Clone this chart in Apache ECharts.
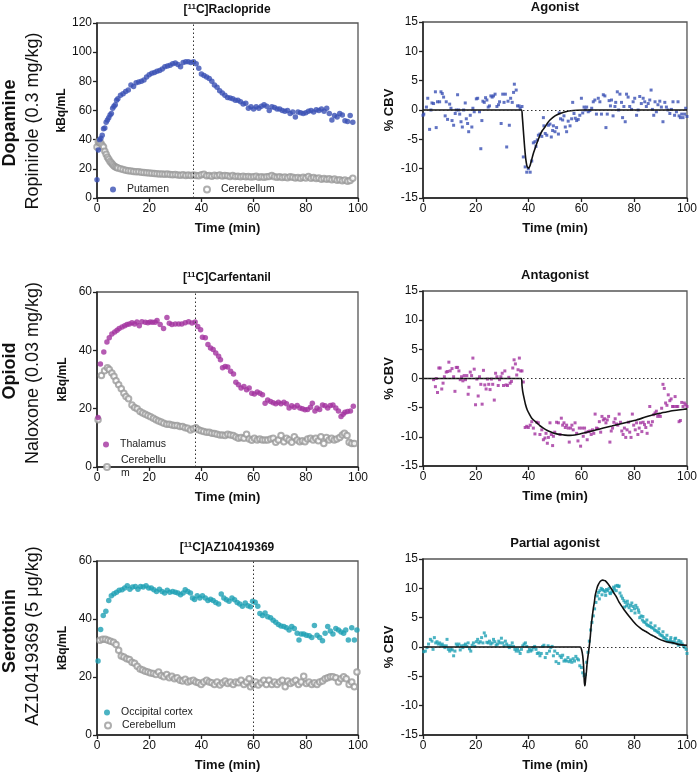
<!DOCTYPE html>
<html><head><meta charset="utf-8">
<script src="https://cdn.jsdelivr.net/npm/echarts@6/dist/echarts.min.js"></script>
<style>html,body{margin:0;padding:0;background:#fff}#c{width:700px;height:777px}</style>
</head><body><div id="c"></div>
<script>
// ---------- DATA ----------
const timeTicks = [0, 20, 40, 60, 80, 100];
const injection = [37, 37.5, 60];
const putamen = [[0,12.5],[0.5,33],[1,40],[1.5,41],[2,43],[2.5,47.5],[3,48],[3.5,52],[4,53.5],[4.5,55],[5,57],[5.5,58],[6,61.5],[6.5,63],[7,64],[7.5,67],[8,68],[9,70.5],[10,71.5],[11,73],[12,74],[13,77.5],[14,76.5],[15,79],[16,79.5],[17,80],[18,81],[19,83],[20,84.5],[21,85.5],[22,86],[23,87],[24,87.5],[25,88.5],[26,90],[27,90.5],[28,91],[29,92],[30,92.5],[31,91.5],[32,90],[33,93],[34,93.5],[35,93.5],[36,93],[37,93.5],[38,92],[39,89],[40,85],[41,84],[42,83],[43,82],[44,80],[45,77.5],[46,76],[47,73.5],[48,72],[49,70.5],[50,69],[51,68.5],[52,68],[53,67],[54,67],[55,66],[56,64.5],[57,65],[58,61.5],[59,62.5],[60,61],[61,62.5],[62,61.5],[63,63],[64,64],[65,63],[66,60],[67,62.5],[68,62],[69,61],[70,61],[71,60],[72,59.5],[73,60],[74,58],[75,59],[76,55.5],[77,59],[78,58.5],[79,58],[80,58.5],[81,59.5],[82,60],[83,59],[84,60.5],[85,60],[86,61],[87,59.5],[88,61.5],[89,58],[90,53.5],[91,56.5],[92,55.5],[93,58],[94,57],[95,53],[96,52.5],[97,56.5],[98,52]];
const cerebellumRac = [[0,35],[0.5,38.5],[1,38],[1.5,37.5],[2,36],[2.5,35],[3,32],[3.5,30],[4,28],[4.5,26.5],[5,25],[5.5,24],[6,23],[6.5,22],[7,21.5],[7.5,21],[8,20.5],[9,20],[10,19.5],[11,19],[12,18.7],[13,18.5],[14,18.2],[15,18],[16,18],[17,17.6],[18,17.5],[19,17.4],[20,17.2],[21,17],[22,16.8],[23,16.7],[24,16.5],[25,16.5],[26,16.3],[27,16.4],[28,16.2],[29,16],[30,16.1],[31,15.8],[32,15.6],[33,15.9],[34,15.5],[35,15.7],[36,15.4],[37,15.8],[38,15.5],[39,15.3],[40,15.9],[41,16.3],[42,15.2],[43,15.5],[44,15],[45,15.6],[46,15.3],[47,15.8],[48,15.1],[49,15.4],[50,15.2],[51,14.8],[52,15.4],[53,14.7],[54,15],[55,14.6],[56,14.9],[57,14.5],[58,14.8],[59,14.4],[60,14.6],[61,14.9],[62,14.3],[63,14.6],[64,14.2],[65,14.5],[66,14.8],[67,15.5],[68,14.6],[69,14.2],[70,14.5],[71,14.1],[72,14.4],[73,13.9],[74,14.6],[75,14.2],[76,13.8],[77,14],[78,13.6],[79,14.2],[80,13.8],[81,14.8],[82,13.5],[83,14],[84,13.4],[85,13.7],[86,12.9],[87,13.3],[88,12.8],[89,13.2],[90,12.6],[91,13],[92,12.2],[93,12.6],[94,11.8],[95,12.3],[96,11.5],[97,12],[98,13.5]];
const thalamus = [[0.4,17],[1.3,35.3],[2.6,39.4],[3.8,42.9],[4.7,44.3],[5.7,45.6],[6.8,46.3],[7.7,46.9],[8.5,47.5],[9.6,48],[10.6,48.4],[11.5,48.9],[12.4,49],[13.4,49.5],[14.4,49],[15.3,49.7],[16.2,48.4],[17.2,49.8],[18.5,49.6],[19.5,49.5],[20.4,49.7],[21.3,49.6],[22.3,49.6],[23,50.2],[24.2,48.9],[25.5,47.5],[26.8,51.3],[27.7,49.3],[28.7,48.9],[30,49],[31.3,49],[32.5,49],[33.8,49.5],[35.1,49.8],[36.4,49.4],[37.6,49.7],[38.6,48.2],[39.7,47.1],[40.4,44.5],[41.5,44.3],[42.5,42],[43.5,40.8],[44.5,40.3],[45.5,39.1],[46.6,38],[47.3,36.8],[48.1,34],[49.1,34.5],[50.1,34.3],[51.2,32.8],[52.3,31.9],[53.2,29.1],[54.2,28.2],[55.2,27.1],[56.3,27.6],[57.3,26.5],[58.3,27.1],[59.3,25.3],[60.3,25],[61.4,25.7],[62.4,25.3],[63.4,24.8],[64.4,21.9],[65.4,23],[66.5,22.5],[67.5,22],[68.5,21.7],[69.5,22.2],[70.5,21.7],[71.6,22.2],[72.6,21.7],[73.6,20.2],[74.6,21],[75.6,20.5],[76.7,21.1],[77.7,20.2],[78.7,20],[79.7,19.6],[80.7,19.7],[81.8,20.5],[82.5,21.9],[83.5,19.2],[84.3,20.2],[85.3,19.7],[86.4,21.3],[87.4,21],[88.4,20.2],[89.4,21.1],[90.4,21.3],[91.5,20.2],[92.5,19.2],[93.5,17.3],[94.3,18.1],[95,18.8],[96,19],[97.1,19.2],[98.2,20.8]];
const cerebellumCarf = [[0.4,16.2],[1.7,31.4],[2.9,33],[4,34],[4.7,33.4],[5.7,32.2],[6.5,31.1],[7.3,29.6],[8.3,28.2],[9.3,26.8],[10.3,25.3],[11.1,24.2],[12.1,23.4],[13.4,21.3],[14.4,20.4],[15.4,20],[16.5,19],[17.5,18.5],[18.5,18.1],[19.5,17.7],[20.5,17.2],[21.6,16.7],[22.6,16.2],[23.6,15.8],[24.6,15.4],[25.6,15],[26.7,14.7],[27.7,14.7],[28.7,14.4],[29.7,14.2],[30.7,14.2],[31.8,13.9],[32.8,13.9],[33.8,13.5],[34.8,13.3],[35.8,12.7],[36.9,13.1],[37.9,13.5],[38.9,12.8],[39.9,12.4],[40.9,12.2],[42,11.9],[43,11.9],[44,11.6],[45,11.5],[46,11.2],[47.1,11],[48.1,11],[49.1,10.8],[50.1,11.2],[51.1,11],[52.2,10.8],[53.2,10.3],[54.2,9.9],[55.2,10.1],[56.3,9.9],[57.3,11.2],[58.3,9.6],[59.3,9.2],[60.3,9.9],[61.4,9.3],[62.4,9.6],[63.4,9.3],[64.4,9.3],[65.4,9.3],[66.5,9.6],[67.5,9.9],[68.5,8.5],[69.5,9.3],[70.5,10.8],[71.6,8.7],[72.6,9.9],[73.6,9.3],[74.6,8.5],[75.6,10.4],[76.7,9.3],[77.7,8.7],[78.7,9],[79.7,8.7],[80.7,9.6],[81.8,9.9],[82.8,9.3],[83.8,9.9],[84.8,9],[85.8,10.4],[86.9,8.1],[87.9,10.1],[88.9,9.3],[89.9,9.9],[90.9,9.3],[91.9,9.6],[93,10.1],[94,11],[94.8,11.6],[95.8,10.8],[96.6,8.5],[97.6,8.1],[98.6,8.1]];
const occipital = [[0.4,25.5],[1.4,36.4],[2.4,41.2],[3.4,42.7],[4.5,46.4],[5.5,48],[6.5,48.7],[7.5,49.2],[8.5,49.9],[9.6,50.1],[10.6,50.7],[11.6,51.5],[12.6,50.3],[13.6,51],[14.7,51.2],[15.7,50.3],[16.7,51.2],[17.7,51],[18.8,51.5],[19.8,50.7],[20.8,50.7],[21.8,50.1],[22.8,49.5],[23.9,50.3],[24.9,49.5],[25.9,49],[26.9,49.9],[27.9,49.2],[29,49.5],[30,49.2],[31,49],[32,48.4],[33,49],[33.8,50.1],[34.8,49.5],[35.8,49],[36.6,47.2],[37.4,46.7],[38.4,48],[39.4,47.2],[40.4,48],[41.5,47.2],[42.5,46.4],[43.5,46.8],[44.5,46.4],[45.5,45.7],[46.6,45.2],[47.6,48.6],[48.6,47.2],[49.6,46.6],[50.6,46.1],[51.7,47.2],[52.7,46.6],[53.7,45.7],[54.7,45.2],[55.7,44.4],[56.8,45.5],[57.8,44.6],[58.8,44.2],[59.6,46.1],[60.6,45.8],[61.6,44.4],[62.4,41.9],[63.4,41.2],[64.4,42.1],[65.4,40.8],[66.5,40.4],[67.5,39.6],[68.5,38.9],[69.5,38.1],[70.5,37.6],[71.6,37.4],[72.6,37],[73.6,36.2],[74.6,37.4],[75.6,36.7],[76.7,35.1],[77.4,32.8],[78.2,34.8],[79.2,34.8],[80.2,34.4],[81.3,34.2],[82.3,33.6],[83.3,37.8],[84.3,34.4],[85.3,33.6],[86.4,32.5],[87.4,35.1],[88.4,37.4],[89.4,35.9],[90.4,34.8],[91.5,36.7],[92.5,36.2],[93.5,35.5],[94.5,35.1],[95.3,36.2],[96.3,32.8],[97.6,37],[98.6,32.8],[99.6,36.2]];
const cerebellumAZ = [[1.1,32.7],[2.2,33],[3.2,33],[4.2,32.7],[5.2,32.3],[6.3,32],[7.3,31.2],[8.3,29.2],[9.3,27.2],[10.3,26.9],[11.4,26.3],[12.4,26],[13.4,25.1],[14.4,24.7],[15.4,23.7],[16.5,22.8],[17.5,22.4],[18.5,22],[19.5,21.7],[20.5,21.4],[21.6,21.2],[22.6,20.9],[23.6,21.7],[24.6,20.5],[25.6,20.1],[26.7,20.9],[27.7,19.7],[28.7,20.3],[29.7,19.4],[30.7,19.7],[31.8,18.9],[32.8,18.6],[33.8,19.2],[34.8,18.3],[35.8,18.6],[36.9,18.9],[37.9,18.3],[38.9,18],[39.9,17.4],[40.9,18.3],[42,18.9],[43,18.3],[44,18],[45,17.4],[46,18.3],[47.1,17.2],[48.1,18],[49.1,18.6],[50.1,17.8],[51.1,18.3],[52.2,17.4],[53.2,18.3],[54.2,18],[55.2,18.9],[56.3,17.4],[57.3,18.3],[58.3,19.4],[58.8,16.6],[59.8,17.4],[60.8,18.3],[61.8,17.2],[62.9,18],[63.9,18.9],[64.9,17.4],[65.9,18.9],[67,17.4],[68,18.3],[69,17.4],[70,18.3],[71,18.9],[72.1,16.6],[73.1,18.6],[74.1,17.8],[75.1,18.3],[76.1,18.9],[77.2,17.4],[78.2,18.3],[79.2,20.3],[80.2,17.8],[81.2,18.3],[82.3,17.4],[83.3,18],[84.3,17.4],[85.3,18.3],[86.4,18.6],[87.4,19.4],[88.4,19.7],[89.4,20.1],[90.4,20.1],[91.5,19.7],[92.5,18.3],[93.5,19.4],[94.5,20.1],[95.5,19.4],[96.6,17.4],[97.6,18.3],[98.6,16.6],[99.6,21.7]];
const agonistCBV = [[0,-0.9],[0.3,-0.7],[1.3,0.5],[1.8,2],[2.5,-3.3],[3,0],[3.4,1.2],[4,1.1],[4.7,3.1],[5,-3],[5.5,1.4],[6.3,1.4],[6.8,3.1],[7.3,2.8],[7.8,2.2],[8.4,-1],[8.8,1.4],[9.3,-1.6],[10.1,1],[10.6,0.3],[11,-1.8],[11.6,-2.6],[12.2,-0.6],[12.6,0],[13.1,2.6],[13.5,0],[13.9,-0.7],[14.4,-2],[14.9,-2.9],[15.4,0],[16,1.2],[16.4,-1.5],[16.9,-2.3],[17.3,-3.7],[17.9,-0.9],[18.5,-2.9],[18.9,0.3],[19.4,-0.3],[20.2,1.9],[20.7,2],[21.4,-0.3],[21.9,-6.6],[22.3,-1.8],[22.7,1.5],[23.2,1.3],[23.7,2.1],[24.2,1.7],[24.7,0.5],[25.2,0.7],[25.7,2.4],[26.2,2.2],[26.7,2.4],[27.3,2.7],[28,0.6],[28.6,0.9],[29,1.4],[29.6,-2.3],[30.2,2.7],[30.7,1.3],[31.2,2.7],[31.7,-6.3],[32.2,1.5],[32.7,-2.6],[33.2,2],[33.8,1.3],[34.3,3],[34.6,4.4],[35.3,3.4],[35.8,0.7],[36.4,0.7],[36.8,0.3],[37.5,0.6],[38,-8],[38.7,-9.7],[39.3,-10.6],[39.9,-10],[40.6,-10.6],[41.2,-8.7],[41.8,-5.6],[42.4,-5.4],[42.8,-6.2],[43.3,-5.1],[43.7,-4.3],[44.3,-4.1],[45,-4.5],[45.6,-1.3],[45.8,-2.7],[46.3,-4],[46.9,-4.3],[47.5,-2.6],[48.1,-2.4],[48.6,-4.6],[49.1,-3.5],[49.4,-2.7],[50,-3.7],[50.6,-3],[51.3,-4.1],[51.6,-0.5],[52.1,-1.5],[52.9,-1.7],[53.4,-1],[53.9,-2.9],[54.4,-3.7],[55,-1.9],[55.7,-2.7],[56.3,-1.5],[56.7,1.3],[57.2,-0.6],[57.7,-1.4],[58.2,-1.8],[58.8,-1.6],[59.4,-0.9],[60,2],[60.5,-0.5],[61,0.5],[61.5,0],[62,0.5],[62.6,-0.3],[63.2,-0.1],[63.9,0.3],[64.5,1.4],[65.1,1.7],[65.7,-0.7],[66.4,2],[67,1.4],[67.6,-0.7],[68.3,2.6],[68.9,2.4],[69.3,-3],[69.8,-0.7],[70.5,1.6],[71,0.7],[71.4,1.7],[72,-1],[72.7,0.6],[73,1.3],[73.6,3.1],[74.1,0],[74.6,2.7],[75.2,1.3],[75.6,-1.3],[76.1,0.6],[76.6,-2],[77.1,2.7],[77.7,2.2],[78.3,0.6],[79,0.1],[79.6,1.4],[80.2,2],[80.9,-0.9],[81.5,0],[82.1,2.3],[82.7,1.1],[83.4,2],[84,1.4],[84.6,0.6],[85.3,1.1],[85.9,1.7],[86.4,3.4],[86.9,0.1],[87.4,-0.9],[87.9,1.4],[88.4,-0.3],[89,0.9],[89.7,1.5],[90.3,0.5],[90.9,-2],[91.6,1.3],[92.2,0.5],[92.8,0],[93.5,-0.6],[94.1,0.1],[94.7,1.4],[95.3,-0.9],[96,-0.3],[96.6,1.4],[97,-1],[97.5,-1.3],[98,-0.7],[98.5,-1.3],[99.1,-0.7],[99.5,0.3],[100,-1.1]];
const agonistFit = [[0,0],[37.3,0],[37.6,-1],[38,-3.4],[38.4,-5.8],[38.7,-7.4],[39,-8.6],[39.3,-9.4],[39.6,-9.8],[39.9,-9.9],[40.2,-9.8],[40.6,-9.4],[41.2,-8.4],[41.8,-7.4],[42.5,-6.5],[43.1,-5.7],[44.3,-4.3],[45.2,-3.5],[46.2,-2.9],[47.2,-2.2],[48.1,-1.7],[50,-1],[51.9,-0.6],[54.4,-0.25],[58.2,-0.05],[61,0],[100,0]];
const antagonistCBV = [[4,-0.2],[4.7,-1.4],[5,0],[5.5,-2.4],[6,1.8],[6.5,1.8],[7.1,-1.8],[7.6,-0.8],[8.1,0.3],[8.8,1.1],[9.3,1.2],[9.8,2.8],[10.3,1.3],[11,1.7],[11.6,0.3],[12.1,-2.2],[12.6,1.9],[13.1,1.9],[13.6,1.3],[14.1,-0.2],[14.6,0.3],[15.1,-0.4],[15.6,0.5],[16.1,-0.2],[16.6,0.5],[17.1,-2.7],[17.4,-1.5],[17.9,1.1],[18.4,0.5],[18.9,3.5],[19.4,1.6],[19.9,-4.5],[20.4,-0.1],[20.9,-3],[21.4,0.3],[21.9,-1],[22.4,-4.4],[22.9,1.4],[23.4,-1.1],[23.9,-1.8],[24.4,-0.1],[24.9,-1],[25.4,-1.9],[25.9,-0.1],[26.4,-1],[27,-3.7],[27.5,0.9],[28,0.3],[28.5,-1.2],[29,-0.2],[29.5,0.3],[30,0.9],[30.5,-1.2],[31,1.3],[31.5,-1.1],[32,-1.2],[32.5,0.2],[33,-0.8],[33.5,-0.5],[34,1.8],[34.5,3.2],[35,2.5],[35.5,0.6],[36,1.5],[36.5,3.5],[37,1.3],[37.5,1.3],[38,-0.6],[38.7,-8.4],[39.3,-8.2],[39.9,-8.4],[40.6,-8],[41.2,-7.4],[41.8,-8.5],[42.4,-9.5],[43.1,-7.5],[43.7,-7.6],[44.3,-9.6],[45,-8.8],[45.6,-10.5],[46.2,-10.2],[46.6,-9.4],[47.1,-11.1],[47.5,-10.1],[48.1,-7.6],[48.6,-9.6],[49.1,-11.5],[49.4,-9.9],[49.9,-9.2],[50.6,-7.5],[51.3,-7.6],[51.9,-9.6],[52.4,-6.8],[52.9,-8],[53.4,-7.6],[53.9,-8.4],[54.4,-8],[55,-8.5],[55.4,-10.9],[55.9,-8.5],[56.4,-8],[56.9,-8.8],[57.6,-7.6],[58.2,-9.4],[58.7,-10.7],[59.2,-8.5],[59.7,-11.6],[60.2,-8.5],[60.7,-9.9],[61.2,-8.5],[61.7,-9.2],[62.2,-10.5],[62.7,-9.1],[63.2,-9],[63.7,-9.6],[64.2,-8.8],[64.7,-9.4],[65.2,-6.1],[65.7,-8.5],[66.2,-8.6],[66.8,-7.4],[67.3,-9.2],[67.8,-6.5],[68.3,-7.1],[68.8,-6.9],[69.3,-7.6],[69.8,-7.1],[70.3,-6.5],[70.8,-10.9],[71.3,-9],[71.8,-8.5],[72.3,-7.5],[72.8,-6.9],[73.3,-7.8],[73.8,-8],[74.3,-6.1],[74.8,-7.5],[75.3,-9],[75.8,-9.6],[76.3,-8.5],[76.8,-10.1],[77.3,-8.8],[77.8,-7.5],[78.3,-9.2],[78.8,-10.1],[79.3,-6.1],[79.8,-8],[80.4,-8.8],[80.9,-7.6],[81.4,-9.6],[81.9,-8.5],[82.4,-7.6],[82.9,-9.1],[83.4,-7.5],[83.9,-7.9],[84.4,-8.4],[84.9,-9.4],[85.4,-7.5],[85.9,-4.8],[86.4,-8],[86.9,-7.4],[87.4,-6.2],[87.9,-5.9],[88.4,-5.6],[88.9,-6.5],[89.4,-6.2],[89.9,-6.5],[90.4,-5.1],[90.9,-1],[91.4,-1.7],[91.9,-4.2],[92.4,-4.6],[92.9,-2.8],[93.5,-3.8],[94,-3.5],[94.5,-4.8],[95,-4.8],[95.5,-3.1],[96,-4.8],[96.5,-4.8],[97,-7.4],[97.5,-7.2],[98,-4.1],[98.5,-4.8],[99,-4.2],[99.5,-4.5],[100,-4.8]];
const antagonistFit = [[0,0],[37.3,0],[37.5,-1.2],[37.8,-2.3],[38.3,-3.4],[38.8,-4.4],[39.5,-5.4],[40.3,-6.1],[41.2,-6.8],[42.1,-7.2],[43.1,-7.6],[44.3,-8.1],[45.6,-8.5],[47.1,-8.9],[48.7,-9.2],[50.3,-9.45],[51.9,-9.6],[53.8,-9.7],[55.7,-9.75],[57.5,-9.7],[59.4,-9.5],[61.3,-9.3],[63.2,-9.1],[65.7,-8.8],[68.3,-8.5],[71.5,-8.15],[74.6,-7.8],[77.8,-7.45],[80.9,-7.1],[84,-6.65],[87.2,-6.2],[90.3,-5.9],[93.5,-5.6],[96.7,-5.4],[100,-5.2]];
const partialCBV = [[0.3,-0.8],[0.9,-0.7],[1.5,-0.1],[2.1,0.5],[2.8,1.3],[3.4,1],[3.8,-0.4],[4.3,1.6],[4.8,0.7],[5.3,0.9],[5.8,0.5],[6.3,0.7],[6.8,0.3],[7.3,0.5],[7.8,0.2],[8.3,-0.1],[8.8,0.2],[9.1,1.3],[9.6,-0.4],[10.1,-0.7],[10.6,-0.3],[11.1,-0.5],[11.6,-1.5],[12.1,-0.7],[12.6,0.5],[13.1,0.2],[13.6,0.5],[14.1,-0.5],[14.6,0.2],[15.1,-0.1],[15.6,0.3],[16.1,0.5],[16.6,0.1],[17.1,0.7],[17.6,-0.3],[18.1,-0.7],[18.6,0.3],[19.1,0.7],[19.6,0.1],[20.2,0.9],[20.7,1.3],[21.2,0.7],[21.7,0.9],[22.2,1.6],[22.7,0.7],[23.2,2.4],[23.7,1.9],[24.2,0.8],[24.7,0.7],[25.2,1],[25.7,0.5],[26.2,0.7],[26.7,1.3],[27.2,0.9],[27.7,0.3],[28.2,0.5],[28.7,1],[29.2,0.7],[29.7,1.5],[30.2,0.7],[30.7,0.2],[31.2,1],[31.7,0.5],[32.2,0.2],[32.7,-0.1],[33.2,0.2],[33.8,0.7],[34.3,0.1],[34.8,-0.4],[35.3,-0.7],[35.8,-0.3],[36.3,-0.7],[36.8,-1.1],[37.3,-0.4],[37.8,0.2],[38.3,0.5],[38.8,0.7],[39.3,0.1],[39.8,-0.8],[40.3,-0.4],[40.8,-0.7],[41.3,-0.5],[41.8,-0.1],[42.3,0.1],[42.8,-0.4],[43.3,-1.1],[43.8,-1],[44.3,-1.5],[44.8,-1.1],[45.3,0.1],[45.8,0.3],[46.3,-1.8],[46.9,-1.1],[47.4,0.2],[47.9,-0.7],[48.4,-0.1],[48.9,0.1],[49.4,-1.5],[49.9,-0.7],[50.4,-2.5],[50.9,-1.1],[51.4,-2.8],[51.9,-1.5],[52.4,-1.8],[52.9,-1.4],[53.4,-2.4],[53.9,-2.2],[54.4,-2.4],[54.9,-1.8],[55.4,-2.5],[55.9,-2.2],[56.4,-2.6],[56.9,-2],[57.4,-2.4],[57.9,-1.6],[58.4,-2],[58.9,-2.2],[59.4,-3.2],[60,-3.5],[60.5,-4.4],[61,-4.9],[61.5,-4.7],[62,-2.6],[62.5,-0.9],[63,1],[63.5,2.9],[64,4.2],[64.5,5.3],[65,6.5],[65.5,7.6],[66,8.7],[66.5,9.3],[66.8,8.2],[67,9.6],[67.5,10],[67.8,8.9],[68,9.8],[68.5,9.6],[69,9.4],[69.2,8.8],[69.5,9.8],[70,9.6],[70.5,10],[70.8,9.2],[71,9.1],[71.5,9.4],[72,9.6],[72.2,10.2],[72.5,9.9],[73,10.4],[73.2,9.6],[73.6,10.5],[74.1,10.3],[74.3,10.4],[74.6,9.2],[75.1,8.7],[75.6,8.3],[76.1,7.9],[76.3,6.8],[76.6,7.6],[77.1,7],[77.4,7.8],[77.6,7.3],[78.1,6.7],[78.6,7.1],[78.9,6.2],[79.1,7.5],[79.6,6.9],[80.1,6.5],[80.3,5.8],[80.6,7.1],[81.1,6.7],[81.6,6.3],[81.8,5.9],[82.1,5],[82.6,5.3],[83.1,4.6],[83.3,5.2],[83.6,4.3],[84.1,4.2],[84.6,3.9],[84.8,4.6],[85.1,3.7],[85.6,3.6],[86.1,3.5],[86.3,4.1],[86.6,3.3],[87.2,3.2],[87.7,2.9],[87.9,3.6],[88.2,2.8],[88.7,2.6],[89.2,2.5],[89.4,3.1],[89.7,2.2],[90.2,2],[90.7,1.9],[90.9,2.6],[91.2,1.6],[91.7,1.5],[92.2,1.3],[92.4,2],[92.7,1],[93.2,0.9],[93.7,1.2],[93.9,1.6],[94.2,0.9],[94.7,0.7],[95.2,0.9],[95.4,1.4],[95.7,1.5],[96.2,0.7],[96.7,0.3],[96.9,1.1],[97.2,0.5],[97.7,0.9],[98.2,0.5],[98.7,0.1],[99.2,-0.1],[99.7,-0.4],[100,-1.1]];
const partialFit = [[0,0],[59.6,0],[60.1,-0.5],[60.5,-1.5],[60.8,-3],[61,-4.9],[61.2,-6.6],[61.4,-6.4],[61.6,-5.5],[61.9,-4.2],[62.2,-2.6],[62.6,-1.2],[63,0.2],[63.4,1.9],[63.7,3.6],[64.1,5.1],[64.5,6.5],[64.9,7.6],[65.2,8.7],[65.6,9.5],[66,10.2],[66.5,10.7],[67,11.1],[67.5,11.3],[68,11.4],[68.5,11.35],[69,11.3],[70.2,10.7],[71.4,9.9],[72.3,9.2],[73.3,8.5],[74.2,7.7],[75.2,7],[76.1,6.4],[77.1,5.8],[78.3,5.1],[79.6,4.4],[80.8,3.8],[82.1,3.3],[83.3,2.9],[84.6,2.6],[85.9,2.2],[87.2,1.9],[88.4,1.6],[89.7,1.3],[90.9,1.1],[92.2,0.9],[94.7,0.7],[97.2,0.4],[100,0.3]];

// ---------- STYLE ----------
const FONT = 'Liberation Sans, Arial, Helvetica, sans-serif';
const BLUE = '#3a50b4', PURPLE = '#a3329f', TEAL = '#1ea0b4', GREY = '#9a9a9a';
const grids = [
  {left: 97, top: 23, width: 261, height: 175},
  {left: 423, top: 22, width: 264, height: 176},
  {left: 97, top: 292, width: 261, height: 175},
  {left: 423, top: 291, width: 264, height: 175},
  {left: 97, top: 561, width: 261, height: 174},
  {left: 423, top: 559, width: 264, height: 176}
].map(g => Object.assign(g, {show: true, borderColor: '#555', borderWidth: 1.3, backgroundColor: 'transparent'}));

const axisCommon = {
  axisLine: {show: true, onZero: false, lineStyle: {color: '#222', width: 1.5}},
  axisTick: {show: true, length: 4, lineStyle: {color: '#222', width: 1.3}},
  axisLabel: {color: '#111', fontSize: 12, fontFamily: FONT, margin: 5},
  splitLine: {show: false}
};
const xAxes = grids.map((g, i) => Object.assign({}, axisCommon, {
  type: 'value', gridIndex: i, min: timeTicks[0], max: timeTicks[timeTicks.length - 1], interval: 20,
  name: 'Time (min)', nameLocation: 'middle', nameGap: 24,
  nameTextStyle: {fontWeight: 'bold', fontSize: 13, color: '#111', fontFamily: FONT}
}));
const yAxes = [
  {max: 120, name: 'kBq/mL'}, {min: -15, max: 15, name: '% CBV'},
  {max: 60, name: 'kBq/mL'}, {min: -15, max: 15, name: '% CBV'},
  {max: 60, name: 'kBq/mL'}, {min: -15, max: 15, name: '% CBV'}
].map((a, i) => Object.assign({}, axisCommon, {
  type: 'value', gridIndex: i, min: a.min !== undefined ? a.min : 0, max: a.max,
  interval: i % 2 ? 5 : 20, name: a.name, nameLocation: 'middle', nameGap: i % 2 ? 27 : 28,
  nameTextStyle: {fontWeight: 'bold', fontSize: i % 2 ? 13 : 12, color: '#111', fontFamily: FONT}
}));

function vline(x) {
  return {silent: true, symbol: 'none', label: {show: false}, animation: false,
    lineStyle: {type: [1.5, 2.5], color: '#333', width: 1}, data: [{xAxis: x}]};
}
function hline() {
  return {silent: true, symbol: 'none', label: {show: false}, animation: false,
    lineStyle: {type: [1.5, 2.5], color: '#333', width: 1}, data: [{yAxis: 0}]};
}
function filled(name, data, color, i, mark) {
  const s = {name, type: 'scatter', xAxisIndex: i, yAxisIndex: i, data, symbol: 'circle', symbolSize: 5.5,
    itemStyle: {color}, z: 3};
  if (mark !== undefined) s.markLine = vline(mark);
  return s;
}
function hollow(name, data, i) {
  return {name, type: 'scatter', xAxisIndex: i, yAxisIndex: i, data, symbol: 'emptyCircle', symbolSize: 5.5,
    itemStyle: {color: GREY, borderWidth: 0.8}, z: 2};
}
function dots(name, data, color, i) {
  return {name, type: 'scatter', xAxisIndex: i, yAxisIndex: i, data, symbol: 'rect', symbolSize: 3,
    itemStyle: {color}, markLine: hline(), z: 2};
}
function fit(name, data, i) {
  return {name, type: 'line', xAxisIndex: i, yAxisIndex: i, data, showSymbol: false, symbol: 'none',
    smooth: 0.2, lineStyle: {color: '#111', width: 1.6}, z: 4};
}

function titleOf(parts, cx, top, size) {
  return {text: parts, left: cx, top, textAlign: 'center', padding: 0,
    textStyle: {fontFamily: FONT, fontWeight: 'bold', fontSize: size, color: '#111',
      rich: {b: {fontFamily: FONT, fontWeight: 'bold', fontSize: size, color: '#111'},
             s: {fontFamily: FONT, fontWeight: 'bold', fontSize: 8, color: '#111', verticalAlign: 'top', padding: [0, 0, 6, 0]}}}};
}
const titles = [
  titleOf('{b|[}{s|11}{b|C]Raclopride}', 227, 3, 12),
  titleOf('{b|Agonist}', 555, 1, 13),
  titleOf('{b|[}{s|11}{b|C]Carfentanil}', 227, 271, 12),
  titleOf('{b|Antagonist}', 555, 269, 13),
  titleOf('{b|[}{s|11}{b|C]AZ10419369}', 227, 541, 12),
  titleOf('{b|Partial agonist}', 555, 537, 13)
];

function leg(name, left, top) {
  return {data: [name], left, top, padding: 0, itemWidth: 18, itemHeight: 6, itemGap: 0,
    selectedMode: false, textStyle: {fontFamily: FONT, fontSize: 10.5, color: '#222', lineHeight: 13}};
}
const legends = [
  leg('Putamen', 110, 183), leg('Cerebellum', 203, 183),
  leg('Thalamus', 103, 438), leg('Cerebellu\nm', 103, 454),
  leg('Occipital cortex', 104, 706), leg('Cerebellum', 104, 719)
];

function rowLabel(text, x, y, bold) {
  return {type: 'text', x, y, rotation: Math.PI / 2,
    style: {text, font: (bold ? 'bold ' : '') + '18px ' + FONT, fill: '#111',
      textAlign: 'center', textVerticalAlign: 'middle', align: 'center', verticalAlign: 'middle'}};
}

const option = {
  animation: false,
  backgroundColor: '#fff',
  textStyle: {fontFamily: FONT},
  title: titles,
  legend: legends,
  grid: grids,
  xAxis: xAxes,
  yAxis: yAxes,
  graphic: [
    rowLabel('Dopamine', 10, 123, true), rowLabel('Ropinirole (0.3 mg/kg)', 33, 121, false),
    rowLabel('Opioid', 10, 371, true), rowLabel('Naloxone (0.03 mg/kg)', 33, 373, false),
    rowLabel('Serotonin', 10, 631, true), rowLabel('AZ10419369 (5 \u03bcg/kg)', 33, 636, false)
  ],
  series: [
    filled('Putamen', putamen, BLUE, 0, injection[0]),
    hollow('Cerebellum', cerebellumRac, 0),
    dots('agonist', agonistCBV, BLUE, 1),
    fit('agonistFit', agonistFit, 1),
    hollow('Cerebellu\nm', cerebellumCarf, 2),
    filled('Thalamus', thalamus, PURPLE, 2, injection[1]),
    dots('antagonist', antagonistCBV, PURPLE, 3),
    fit('antagonistFit', antagonistFit, 3),
    hollow('Cerebellum', cerebellumAZ, 4),
    filled('Occipital cortex', occipital, TEAL, 4, injection[2]),
    dots('partial', partialCBV, TEAL, 5),
    fit('partialFit', partialFit, 5)
  ]
};
const chart = echarts.init(document.getElementById('c'), null, {renderer: 'canvas'});
chart.setOption(option);
</script></body></html>
